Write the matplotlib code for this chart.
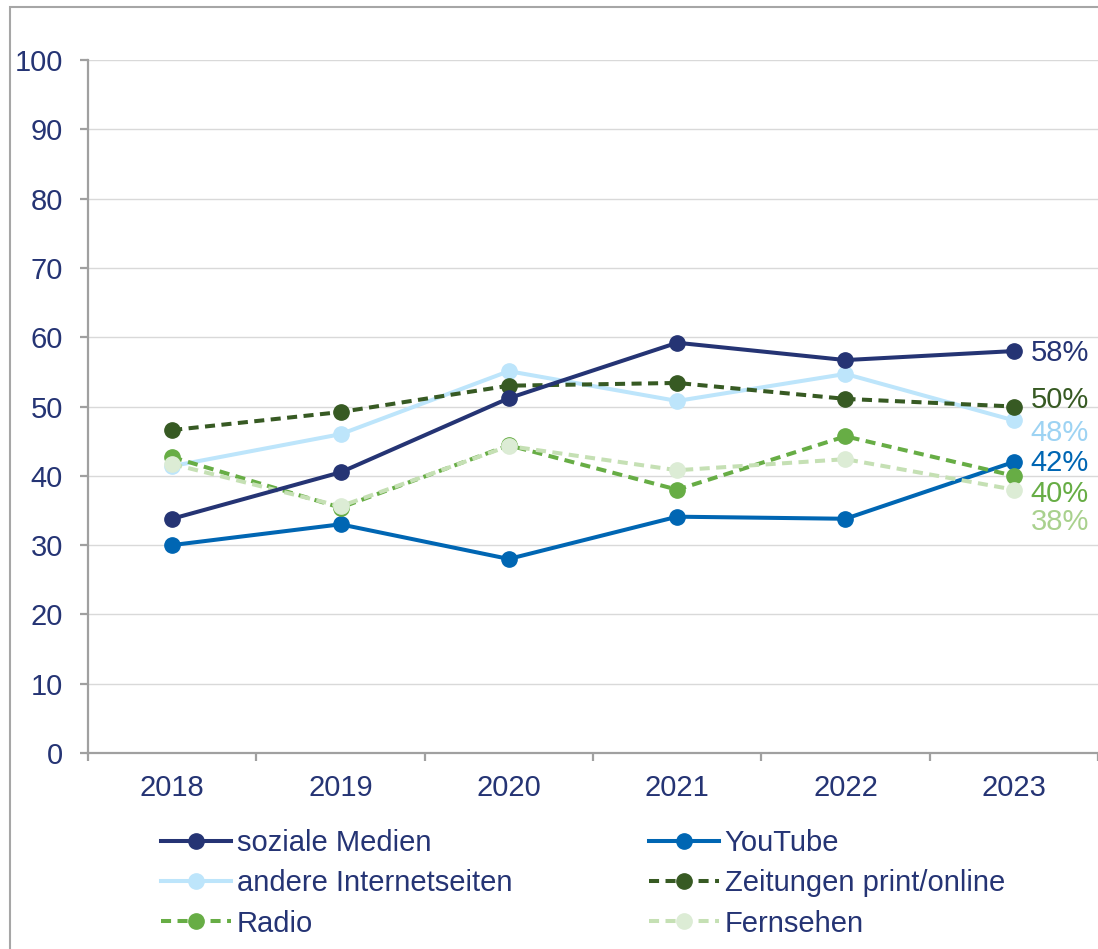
import matplotlib
matplotlib.use("Agg")
import matplotlib.pyplot as plt
from matplotlib.patches import Rectangle
from matplotlib.ticker import FixedLocator

plt.rcParams['font.family'] = ['Liberation Sans', 'DejaVu Sans']

years = ["2018", "2019", "2020", "2021", "2022", "2023"]
soziale_medien = [33.8, 40.5, 51.2, 59.2, 56.7, 58.0]
youtube = [30.0, 33.0, 28.0, 34.1, 33.8, 42.0]
andere_internetseiten = [41.4, 46.0, 55.1, 50.8, 54.7, 48.0]
zeitungen = [46.6, 49.2, 53.0, 53.4, 51.1, 50.0]
radio = [42.7, 35.4, 44.4, 38.0, 45.7, 40.0]
fernsehen = [41.7, 35.6, 44.3, 40.8, 42.4, 38.0]
end_labels = ["58%", "42%", "48%", "50%", "40%", "38%"]
series_names = ["soziale Medien", "YouTube", "andere Internetseiten",
                "Zeitungen print/online", "Radio", "Fernsehen"]

W, H = 1098, 949
FS = 21
fig = plt.figure(figsize=(W / 100, H / 100), dpi=100)
ax = fig.add_axes([88 / W, 1 - 753 / H, 1 - 88 / W, (753 - 60) / H])

text_col = "#253474"
dash = (0, (2.5, 1.6))
styles = [
    dict(color="#253474", mfc="#253474", ls="-", lab="#253474", off=-2),
    dict(color="#0066b3", mfc="#0066b3", ls="-", lab="#0066b3", off=-1),
    dict(color="#bde5fb", mfc="#bde5fb", ls="-", lab="#9dd3f3", off=-13),
    dict(color="#375a23", mfc="#375a23", ls=dash, lab="#375a23", off=6),
    dict(color="#67ad45", mfc="#67ad45", ls=dash, lab="#67ad45", off=-18),
    dict(color="#c5e0b4", mfc="#dcecd5", ls=dash, lab="#a9d18e", off=-32),
]
data = [soziale_medien, youtube, andere_internetseiten, zeitungen, radio, fernsehen]
x = list(range(len(years)))
zorders = [8, 3, 4, 5, 6, 7]

handles = []
for vals, st, name, lbl, z in zip(data, styles, series_names, end_labels, zorders):
    h, = ax.plot(x, vals, color=st["color"], ls=st["ls"], lw=2.9,
                 marker="o", ms=11, mfc=st["mfc"], mec=st["mfc"],
                 label=name, zorder=z, clip_on=False)
    handles.append(h)
    ax.annotate(lbl, xy=(x[-1], vals[-1]),
                xytext=(17 * 0.72, st["off"] * 0.72), textcoords="offset points",
                ha="left", va="center", fontsize=FS, color=st["lab"],
                annotation_clip=False)

ax.set_xlim(-0.5, 5.5)
ax.set_ylim(0, 100)
ax.set_yticks(range(0, 101, 10))
ax.set_xticks(x)
ax.set_xticklabels(years)
ax.xaxis.set_minor_locator(FixedLocator([i - 0.5 for i in range(7)]))

for s in ["top", "right"]:
    ax.spines[s].set_visible(False)
for s in ["left", "bottom"]:
    ax.spines[s].set_color("#a0a0a0")
    ax.spines[s].set_linewidth(1.6)

ax.grid(axis="y", color="#d9d9d9", lw=1.0)
ax.set_axisbelow(True)
ax.tick_params(axis="y", length=6, width=1.6, color="#a0a0a0", direction="out",
               labelsize=FS, labelcolor=text_col, pad=12)
ax.tick_params(axis="x", which="major", length=0, labelsize=FS,
               labelcolor=text_col, pad=15)
ax.tick_params(axis="x", which="minor", length=6, width=1.6, color="#a0a0a0",
               direction="out")

order = [0, 2, 4, 1, 3, 5]
leg = fig.legend([handles[i] for i in order], [series_names[i] for i in order],
                 ncol=2, loc="upper left", bbox_to_anchor=(161 / W, 1 - 829 / H),
                 frameon=False, fontsize=FS, handlelength=2.4, handletextpad=0.2,
                 columnspacing=4.68, labelspacing=0.42, borderpad=0, borderaxespad=0)
for t in leg.get_texts():
    t.set_color(text_col)

fig.add_artist(Rectangle((9.5 / W, -0.05), 1.2, 1 - 7 / H + 0.05, fill=False,
                         edgecolor="#a6a6a6", lw=1.5, transform=fig.transFigure,
                         clip_on=False))

fig.savefig("out.png", dpi=100)
